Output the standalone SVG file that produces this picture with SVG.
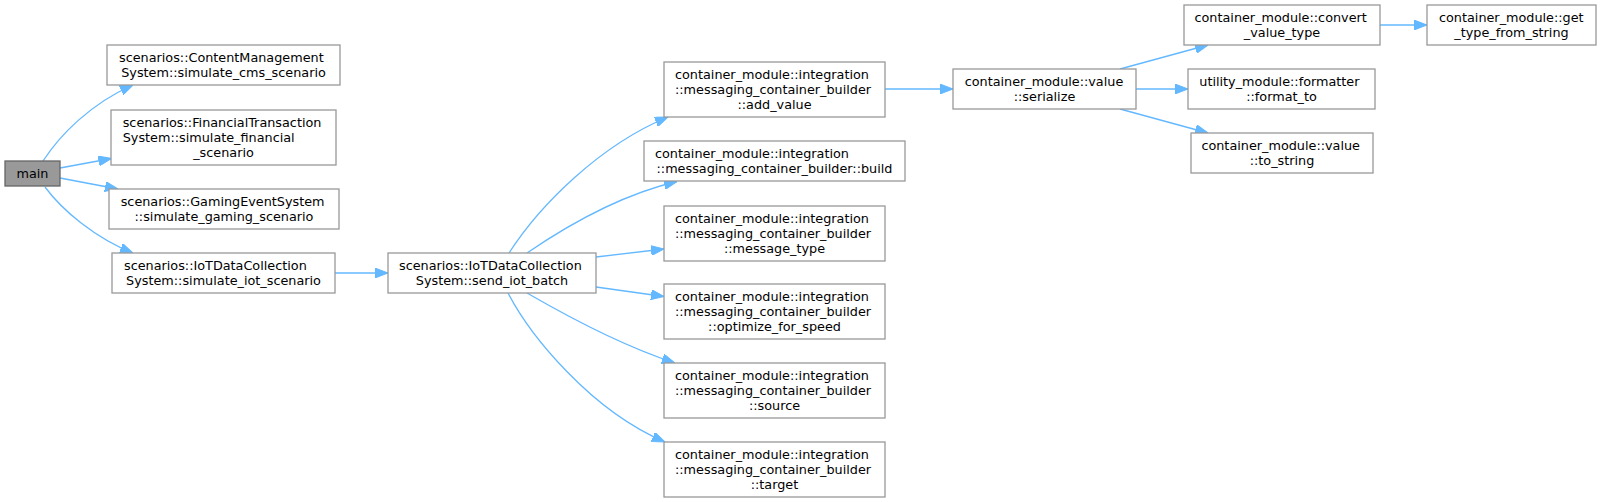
<svg xmlns="http://www.w3.org/2000/svg" width="1601" height="502" viewBox="0 0 1601 502">
<defs>
<style>
.n rect{fill:#fff;stroke:#999;stroke-width:1.3}
.m rect{fill:#999;stroke:#666;stroke-width:1.3}
text{font-family:"DejaVu Sans",Verdana,sans-serif;font-size:12.8px;fill:#000}
.s{text-anchor:start}
.c{text-anchor:middle}
.e path{fill:none;stroke:#63b8ff;stroke-width:1.3;marker-end:url(#a)}
</style>
<marker id="a" viewBox="0 0 13 10" refX="13" refY="5" markerWidth="13" markerHeight="10" markerUnits="userSpaceOnUse" orient="auto">
<path d="M0,0 L13,5 L0,10 z" fill="#63b8ff" stroke="#63b8ff" stroke-width="1"/>
</marker>
</defs>
<rect width="1601" height="502" fill="#fff"/>
<g class="e" id="edges">
<path d="M43,161 C60,135 90,104 133,85"/>
<path d="M60,168 L111.5,158.5"/>
<path d="M60,178 L118,189"/>
<path d="M45,187 C62,210 95,238 133,253"/>
<path d="M335,273 L388,273"/>
<path d="M509,253 C540,205 600,145 668,117"/>
<path d="M527,253 C565,227 620,195 677,181.5"/>
<path d="M596,257 L664,249"/>
<path d="M596,287 L664,296.5"/>
<path d="M527,293 C565,315 620,345 675,363"/>
<path d="M508,293 C530,335 590,410 665,442"/>
<path d="M885,89 L953,89"/>
<path d="M1120,69 L1208,45"/>
<path d="M1136,89 L1188,89"/>
<path d="M1120,109 L1208,133"/>
<path d="M1380,25 L1427,25"/>
</g>
<g class="m" id="main"><rect x="5" y="161" width="55" height="25"/><text class="c" x="32.5" y="178">main</text></g>
<g class="n" id="cms"><rect x="107" y="45" width="233" height="40"/><text class="s" x="119" y="62">scenarios::ContentManagement</text><text class="c" x="223.5" y="77">System::simulate_cms_scenario</text></g>
<g class="n" id="fin"><rect x="111" y="110" width="225" height="55"/><text class="s" x="122.7" y="127">scenarios::FinancialTransaction</text><text class="s" x="122.7" y="142">System::simulate_financial</text><text class="c" x="223.5" y="157">_scenario</text></g>
<g class="n" id="gaming"><rect x="109" y="189" width="230" height="40"/><text class="s" x="120.7" y="206">scenarios::GamingEventSystem</text><text class="c" x="224" y="221">::simulate_gaming_scenario</text></g>
<g class="n" id="iotsim"><rect x="112" y="253" width="223" height="40"/><text class="s" x="124" y="270">scenarios::IoTDataCollection</text><text class="c" x="223.5" y="285">System::simulate_iot_scenario</text></g>
<g class="n" id="send"><rect x="388" y="253" width="208" height="40"/><text class="s" x="399" y="270">scenarios::IoTDataCollection</text><text class="c" x="492" y="285">System::send_iot_batch</text></g>
<g class="n" id="addvalue"><rect x="664" y="62" width="221" height="55"/><text class="s" x="675" y="79">container_module::integration</text><text class="s" x="675" y="94">::messaging_container_builder</text><text class="c" x="774.5" y="109">::add_value</text></g>
<g class="n" id="build"><rect x="644" y="141" width="261" height="40"/><text class="s" x="655" y="158">container_module::integration</text><text class="c" x="774.5" y="173">::messaging_container_builder::build</text></g>
<g class="n" id="msgtype"><rect x="664" y="206" width="221" height="55"/><text class="s" x="675" y="223">container_module::integration</text><text class="s" x="675" y="238">::messaging_container_builder</text><text class="c" x="774.5" y="253">::message_type</text></g>
<g class="n" id="optimize"><rect x="664" y="284" width="221" height="55"/><text class="s" x="675" y="301">container_module::integration</text><text class="s" x="675" y="316">::messaging_container_builder</text><text class="c" x="774.5" y="331">::optimize_for_speed</text></g>
<g class="n" id="source"><rect x="664" y="363" width="221" height="55"/><text class="s" x="675" y="380">container_module::integration</text><text class="s" x="675" y="395">::messaging_container_builder</text><text class="c" x="774.5" y="410">::source</text></g>
<g class="n" id="target"><rect x="664" y="442" width="221" height="55"/><text class="s" x="675" y="459">container_module::integration</text><text class="s" x="675" y="474">::messaging_container_builder</text><text class="c" x="774.5" y="489">::target</text></g>
<g class="n" id="serialize"><rect x="953" y="69" width="183" height="40"/><text class="s" x="964.7" y="86">container_module::value</text><text class="c" x="1044.5" y="101">::serialize</text></g>
<g class="n" id="convert"><rect x="1184" y="5" width="196" height="40"/><text class="s" x="1194.5" y="22">container_module::convert</text><text class="c" x="1282" y="37">_value_type</text></g>
<g class="n" id="formatto"><rect x="1188" y="69" width="187" height="40"/><text class="s" x="1199.3" y="86">utility_module::formatter</text><text class="c" x="1281.5" y="101">::format_to</text></g>
<g class="n" id="tostring"><rect x="1191" y="133" width="182" height="40"/><text class="s" x="1201.4" y="150">container_module::value</text><text class="c" x="1282" y="165">::to_string</text></g>
<g class="n" id="gettype"><rect x="1427" y="5" width="169" height="40"/><text class="s" x="1439" y="22">container_module::get</text><text class="c" x="1511.5" y="37">_type_from_string</text></g>
</svg>
